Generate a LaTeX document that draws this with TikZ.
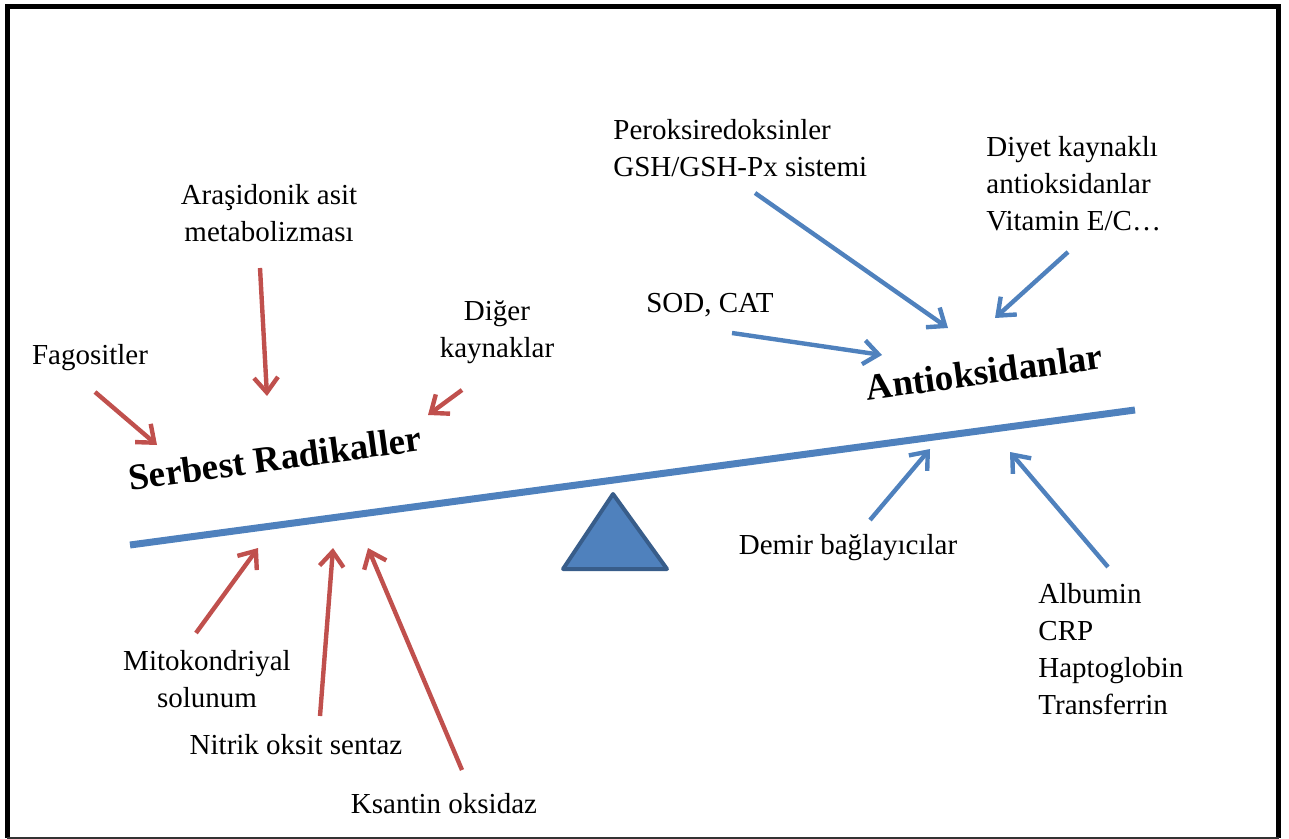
\documentclass[tikz,border=0pt]{standalone}
\usepackage{fontspec}
\setmainfont{Liberation Serif}
\usetikzlibrary{arrows.meta}
\definecolor{radred}{HTML}{C0504D}
\definecolor{oxblue}{HTML}{4F81BD}
\definecolor{oxedge}{HTML}{385D8A}
\tikzset{
	lbl/.style={inner sep=0pt, font=\fontsize{14.5}{18.5}\selectfont},
	heading/.style={inner sep=0pt, font=\fontsize{18.5}{22}\selectfont\bfseries, rotate=7.7},
	redarrow/.style={draw=radred, line width=2.2pt, -{Straight Barb[length=7.5pt,width=12pt]}},
	bluearrow/.style={draw=oxblue, line width=2.2pt, -{Straight Barb[length=7.5pt,width=12pt]}}
}
\begin{document}
\begin{tikzpicture}[x=0.5pt,y=-0.5pt]
		\useasboundingbox (0,0) rectangle (1289,839);
		
		% Frame
		\draw[line width=2.5pt] (7,838) -- (7,6.5) -- (1278.5,6.5) -- (1278.5,838);
		\draw[line width=0.7pt, black!80] (7,838) -- (1278.5,838);
		
		% Balance
		\draw[oxblue, line width=3.5pt] (130,545) -- (1135,410);
		\filldraw[fill=oxblue, draw=oxedge, line width=2pt, line join=round]
			(613,494) -- (667,569) -- (563,569) -- cycle;
		
		% Serbest radikaller side
		\begin{scope}
			\node[heading] (serbest) at (275,458) {Serbest Radikaller};
			\node[lbl] (fago) at (90,358) {Fagositler};
			\node[lbl, align=center] (arasi) at (269,213) {Araşidonik asit\\metabolizması};
			\node[lbl, align=center] (diger) at (497,332) {Diğer\\kaynaklar};
			\node[lbl, align=center] (mito) at (207,679) {Mitokondriyal\\solunum};
			\node[lbl] (nitrik) at (296,745) {Nitrik oksit sentaz};
			\node[lbl] (ksantin) at (444,804) {Ksantin oksidaz};
			
			% Arrow ends
			\coordinate (fagoS) at (95,392);    \coordinate (fagoT) at (157,445);
			\coordinate (arasiS) at (260,268);  \coordinate (arasiT) at (267,396);
			\coordinate (digerS) at (462,390);  \coordinate (digerT) at (428,415);
			\coordinate (mitoS) at (196,633);   \coordinate (mitoT) at (258,548);
			\coordinate (nitrikS) at (320,716); \coordinate (nitrikT) at (333,548);
			\coordinate (ksantinS) at (462,770); \coordinate (ksantinT) at (368,548);
			
			\foreach \a in {fago,arasi,diger,mito,nitrik,ksantin} {
				\draw[redarrow] (\a S) -- (\a T);
			}
		\end{scope}
		
		% Antioksidanlar side
		\begin{scope}
			\node[heading] (antiox) at (984,372) {Antioksidanlar};
			\node[lbl] (sod) at (710,305) {SOD, CAT};
			\node[lbl, anchor=west, align=left] (perox) at (613,148) {Peroksiredoksinler\\GSH/GSH-Px sistemi};
			\node[lbl, anchor=west, align=left] (diyet) at (986,184) {Diyet kaynaklı\\antioksidanlar\\Vitamin E/C…};
			\node[lbl] (demir) at (848,548) {Demir bağlayıcılar};
			\node[lbl, anchor=west, align=left] (albumin) at (1038,649) {Albumin\\CRP\\Haptoglobin\\Transferrin};
			
			% Arrow ends
			\coordinate (sodS) at (732,333);     \coordinate (sodT) at (882,355);
			\coordinate (peroxS) at (755,193);   \coordinate (peroxT) at (948,328);
			\coordinate (diyetS) at (1068,252);  \coordinate (diyetT) at (995,318);
			\coordinate (demirS) at (870,520);   \coordinate (demirT) at (930,449);
			\coordinate (albuminS) at (1108,567); \coordinate (albuminT) at (1010,452);
			
			\foreach \a in {sod,perox,diyet,demir,albumin} {
				\draw[bluearrow] (\a S) -- (\a T);
			}
		\end{scope}
	\end{tikzpicture}
\end{document}
